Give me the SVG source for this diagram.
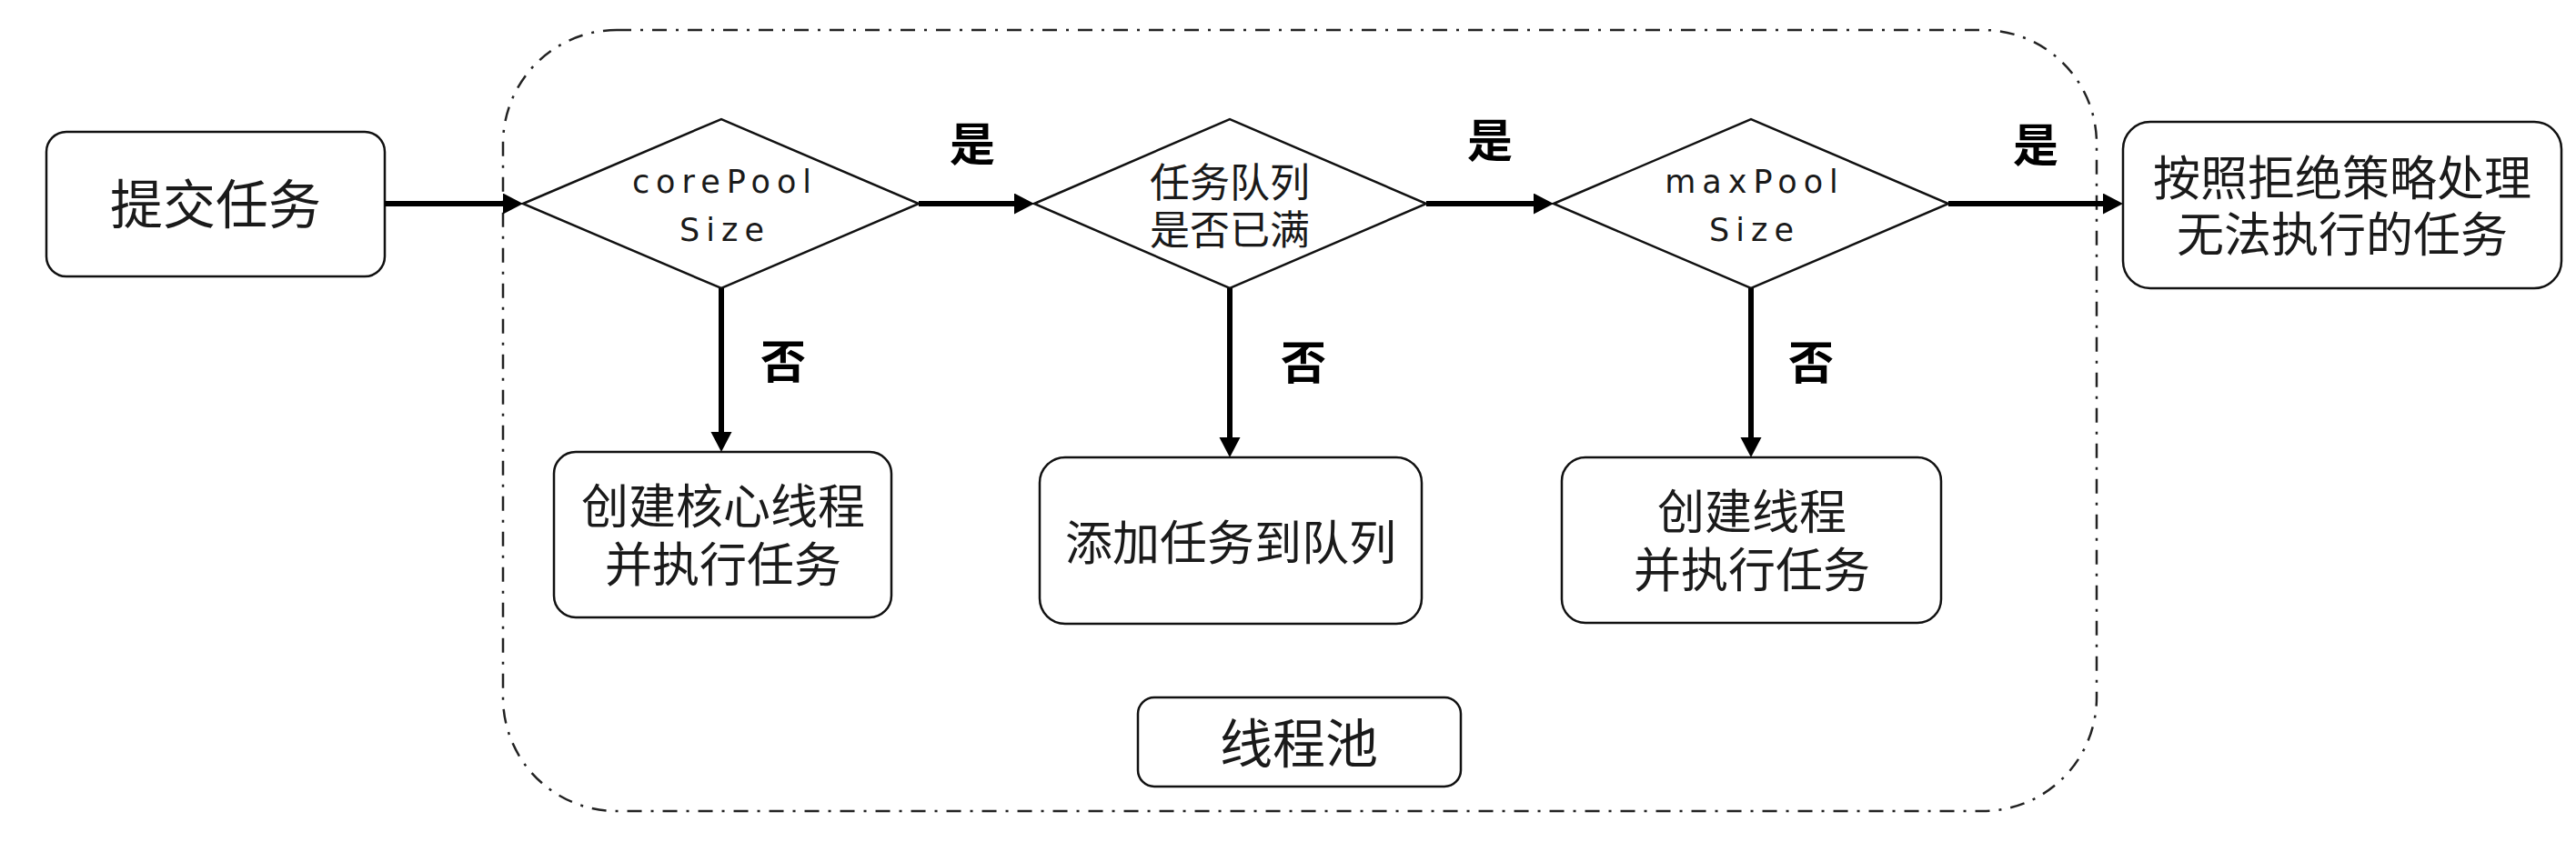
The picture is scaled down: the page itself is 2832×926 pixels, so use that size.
<svg xmlns="http://www.w3.org/2000/svg" width="2832" height="926" viewBox="0 0 2832 926">
<defs>
<marker id="ah" markerUnits="userSpaceOnUse" markerWidth="24" markerHeight="24" refX="10" refY="11.5" orient="auto">
<path d="M0,0 L22,11.5 L0,23 z" fill="#000"/>
</marker>
<style>
.box{fill:#fff;stroke:#111;stroke-width:2.5}
.dia{fill:#fff;stroke:#111;stroke-width:2.5}
.cjk{font-family:"Liberation Sans","Noto Sans CJK SC",sans-serif;fill:#1a1a1a;text-anchor:middle}
.lat{font-family:"DejaVu Sans","Noto Sans",sans-serif;fill:#1a1a1a;text-anchor:middle;font-size:35px;letter-spacing:7px}
.lbl{font-family:"Liberation Sans","Noto Sans CJK SC",sans-serif;font-weight:700;font-size:50px;fill:#000;text-anchor:middle}
.conn{stroke:#000;stroke-width:6;fill:none;marker-end:url(#ah)}
.pool{fill:none;stroke:#222;stroke-width:2.5;stroke-dasharray:16 10 3 10}
</style>
</defs>
<rect width="2832" height="926" fill="#fff"/>

<g id="pool-boundary">
<rect class="pool" x="553" y="33" width="1752" height="859" rx="125" ry="125"/>
</g>

<g id="n-submit">
<rect class="box" x="51" y="145" width="372" height="159" rx="22"/>
<text class="cjk" x="237" y="246" font-size="58">提交任务</text>
</g>

<g id="n-core">
<polygon class="dia" points="575,224 793,131 1010,224 793,317"/>
<text class="lat" x="797" y="212">corePool</text>
<text class="lat" x="797" y="265">Size</text>
</g>

<g id="n-queue">
<polygon class="dia" points="1137,224 1352,131 1568,224 1352,317"/>
<text class="cjk" x="1352" y="217" font-size="44">任务队列</text>
<text class="cjk" x="1352" y="269" font-size="44">是否已满</text>
</g>

<g id="n-max">
<polygon class="dia" points="1708,224 1925,131 2142,224 1925,317"/>
<text class="lat" x="1929" y="212">maxPool</text>
<text class="lat" x="1929" y="265">Size</text>
</g>

<g id="n-reject">
<rect class="box" x="2334" y="134" width="482" height="183" rx="30"/>
<text class="cjk" x="2575" y="215" font-size="52">按照拒绝策略处理</text>
<text class="cjk" x="2575" y="277" font-size="52">无法执行的任务</text>
</g>

<g id="n-create-core">
<rect class="box" x="609" y="497" width="371" height="182" rx="24"/>
<text class="cjk" x="795" y="576" font-size="52">创建核心线程</text>
<text class="cjk" x="795" y="640" font-size="52">并执行任务</text>
</g>

<g id="n-add-queue">
<rect class="box" x="1143" y="503" width="420" height="183" rx="28"/>
<text class="cjk" x="1353" y="616" font-size="52">添加任务到队列</text>
</g>

<g id="n-create">
<rect class="box" x="1717" y="503" width="417" height="182" rx="26"/>
<text class="cjk" x="1926" y="582" font-size="52">创建线程</text>
<text class="cjk" x="1926" y="646" font-size="52">并执行任务</text>
</g>

<g id="n-pool-label">
<rect class="box" x="1251" y="767" width="355" height="98" rx="18"/>
<text class="cjk" x="1428" y="839" font-size="58">线程池</text>
</g>

<g id="connectors">
<line class="conn" x1="423" y1="224" x2="563" y2="224"/>
<line class="conn" x1="1010" y1="224" x2="1125" y2="224"/>
<line class="conn" x1="1568" y1="224" x2="1696" y2="224"/>
<line class="conn" x1="2142" y1="224" x2="2322" y2="224"/>
<line class="conn" x1="793" y1="317" x2="793" y2="485"/>
<line class="conn" x1="1352" y1="317" x2="1352" y2="491"/>
<line class="conn" x1="1925" y1="317" x2="1925" y2="491"/>
<text class="lbl" x="1069" y="177">是</text>
<text class="lbl" x="1638" y="173">是</text>
<text class="lbl" x="2238" y="178">是</text>
<text class="lbl" x="861" y="416">否</text>
<text class="lbl" x="1433" y="417">否</text>
<text class="lbl" x="1991" y="417">否</text>
</g>
</svg>
